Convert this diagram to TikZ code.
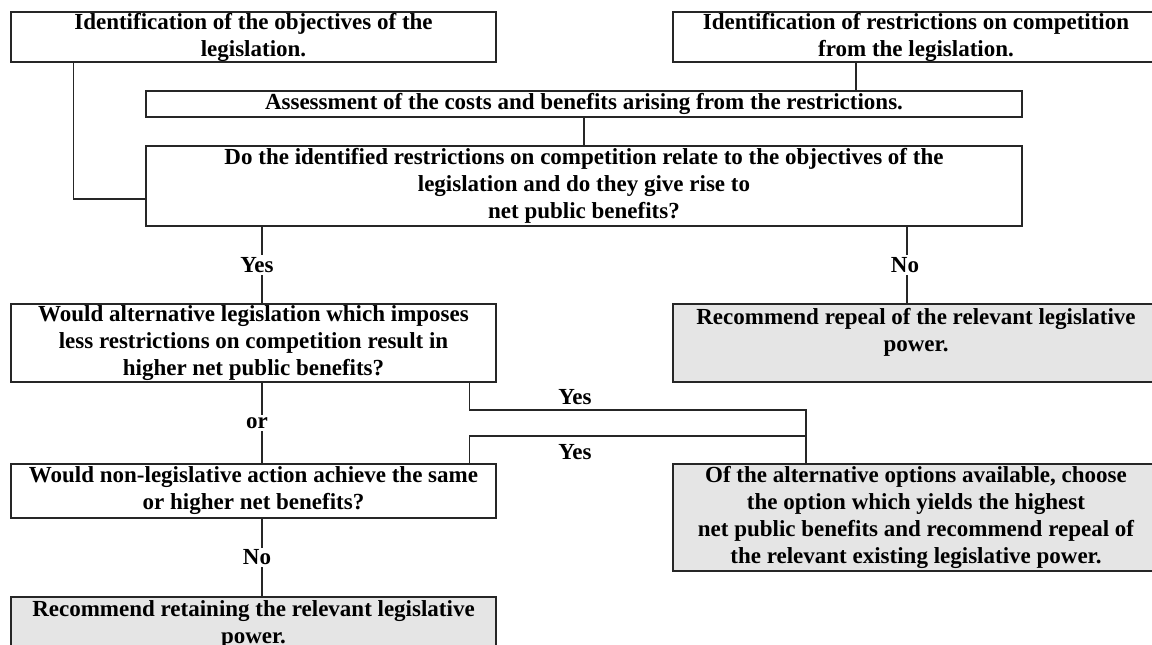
\documentclass[tikz,border=0pt]{standalone}
\usepackage{fontspec}
\setmainfont{Liberation Serif}
\begin{document}
\begin{tikzpicture}[x=1pt,y=-1pt,
  txt/.style={font=\fontsize{23}{27}\selectfont\bfseries},
  box/.style={txt, draw=black!85, line width=1.3pt, minimum width=485pt, inner sep=0pt, align=center},
  widebox/.style={box, minimum width=876pt},
  shaded/.style={box, fill=black!10},
  conn/.style={draw=black!85, line width=1.3pt},
  lab/.style={txt, fill=white, inner sep=2pt}]
\useasboundingbox (0,0) rectangle (1152,645);
\clip (0,0) rectangle (1152,645);
\fill[white] (0,0) rectangle (1152,645);

\node[box, minimum height=50pt] (A) at (253.5,37) {Identification of the objectives of the\\legislation.};
\node[box, minimum width=486pt, minimum height=50pt] (B) at (916,37) {Identification of restrictions on competition\\from the legislation.};
\node[widebox, minimum height=26pt] (C) at (584,104) {Assessment of the costs and benefits arising from the restrictions.};
\node[widebox, minimum height=80pt] (D) at (584,186) {Do the identified restrictions on competition relate to the objectives of the\\legislation and do they give rise to\\net public benefits?};
\node[box, minimum height=78pt] (E) at (253.5,343) {Would alternative legislation which imposes\\less restrictions on competition result in\\higher net public benefits?};
\node[shaded, minimum width=486pt, minimum height=78pt] (F) at (916,343) {Recommend repeal of the relevant legislative\\power.\\\mbox{}};
\node[box, minimum height=54pt] (G) at (253.5,491) {Would non-legislative action achieve the same\\or higher net benefits?};
\node[shaded, minimum width=486pt, minimum height=107pt] (I) at (916,517.5) {Of the alternative options available, choose\\the option which yields the highest\\net public benefits and recommend repeal of\\the relevant existing legislative power.};
\node[shaded, minimum height=78pt] (H) at (253.5,636) {Recommend retaining the relevant legislative\\power.\\\mbox{}};

% top connectors
\draw[conn] ([xshift=63pt]A.south west) |- ([yshift=-13pt]D.west);
\draw[conn] ([xshift=-60pt]B.south) coordinate (b1) -- (b1 |- C.north);
\draw[conn] (C.south) -- (D.north);

% D to E and F
\draw[conn] ([xshift=8.5pt]E.north |- D.south) -- node[lab, xshift=-5pt] (yes1) {Yes} ([xshift=8.5pt]E.north);
\draw[conn] ([xshift=-9pt]F.north |- D.south) -- node[lab, xshift=-2pt] (no1) {No} ([xshift=-9pt]F.north);

% E to G, G to H
\draw[conn] ([xshift=8.5pt]E.south) -- node[lab, xshift=-5pt] (or1) {or} ([xshift=8.5pt]G.north);
\draw[conn] ([xshift=8.5pt]G.south) -- node[lab, xshift=-5pt] (no2) {No} ([xshift=8.5pt]H.north);

% Yes branches to I
\coordinate (j1) at (806,410);
\coordinate (j2) at (806,436);
\draw[conn] ([xshift=-27pt]E.south east) |- (j1) -- (j1 |- I.north);
\draw[conn] ([xshift=-27pt]G.north east) |- (j2);
\node[txt, inner sep=0pt] (yes2) at (575,397) {Yes};
\node[txt, inner sep=0pt] (yes3) at (575,452) {Yes};
\end{tikzpicture}
\end{document}
